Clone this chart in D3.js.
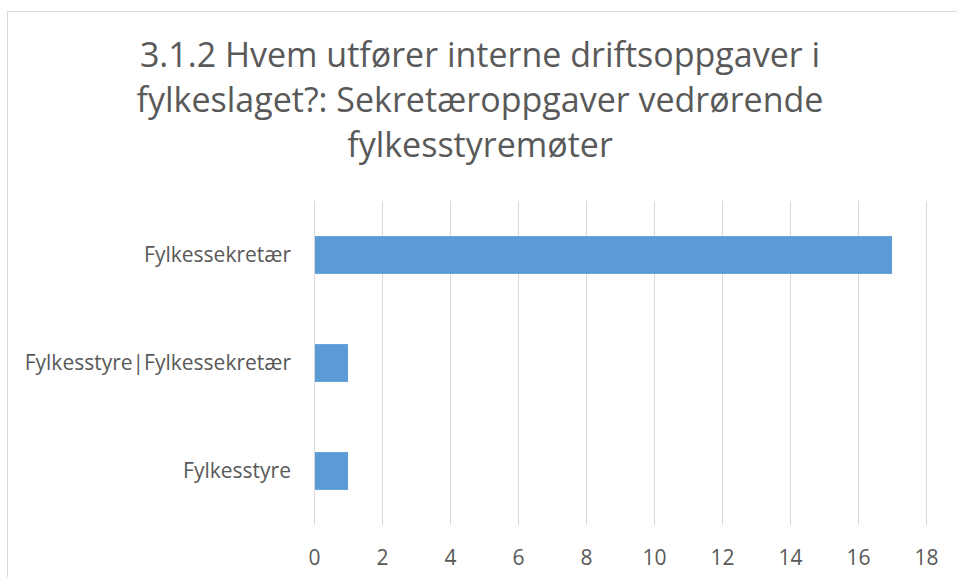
<!DOCTYPE html>
<html><head><meta charset="utf-8">
<script src="https://cdn.jsdelivr.net/npm/d3@7"></script>
<style>body{margin:0;background:#fff}svg{display:block}text{font-family:"Open Sans",sans-serif;fill:#595959}</style>
</head><body>
<script>
const categories = ["Fylkessekretær", "Fylkesstyre|Fylkessekretær", "Fylkesstyre"];
const values = [17, 1, 1];
const xTicks = [0, 2, 4, 6, 8, 10, 12, 14, 16, 18];
const titleLines = ["3.1.2 Hvem utfører interne driftsoppgaver i", "fylkeslaget?: Sekretæroppgaver vedrørende", "fylkesstyremøter"];

const W = 957, H = 577;
const svg = d3.select("body").append("svg").attr("width", W).attr("height", H);
svg.append("rect").attr("x", 7.5).attr("y", 11.5).attr("width", W).attr("height", H)
  .attr("fill", "#fff").attr("stroke", "#d9d9d9").attr("stroke-width", 1);

const x = d3.scaleLinear().domain([0, 18]).range([314, 926]);
const y = d3.scaleBand().domain(categories).range([201, 525]).paddingInner(0.65).paddingOuter(0.325);

svg.append("g").selectAll("line").data(xTicks).join("line")
  .attr("x1", d => x(d) + 0.5).attr("x2", d => x(d) + 0.5)
  .attr("y1", 201).attr("y2", 525).attr("stroke", "#d9d9d9").attr("stroke-width", 1);

svg.append("g").selectAll("rect").data(values).join("rect")
  .attr("x", x(0) + 1).attr("y", (d, i) => y(categories[i]))
  .attr("width", d => x(d) - x(0) - 1).attr("height", y.bandwidth())
  .attr("fill", "#5b9bd5");

const xAxis = d3.axisBottom(x).tickValues(xTicks).tickSize(0).tickPadding(0);
const gx = svg.append("g").attr("transform", "translate(0,565)").call(xAxis);
gx.select(".domain").remove();
gx.selectAll("text").attr("font-size", 21).attr("fill", "#595959").attr("dy", 0)
  .style("font-family", '"Open Sans",sans-serif');

const yAxis = d3.axisLeft(y).tickSize(0).tickPadding(0);
const gy = svg.append("g").attr("transform", "translate(291,0)").call(yAxis);
gy.select(".domain").remove();
gy.selectAll("text").attr("font-size", 21).attr("fill", "#595959").attr("dy", "0.35em")
  .style("font-family", '"Open Sans",sans-serif');

svg.append("g").selectAll("text").data(titleLines).join("text")
  .attr("x", 480).attr("y", (d, i) => 67 + i * 45)
  .attr("text-anchor", "middle").attr("font-size", 34).text(d => d);
</script>
</body></html>
